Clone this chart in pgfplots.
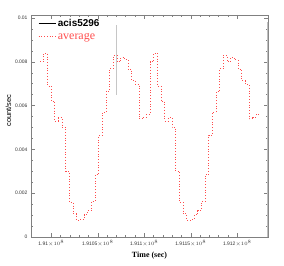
\documentclass[border=0pt]{standalone}
\usepackage{fontspec}
\setmainfont{Liberation Sans}
\newfontfamily\seriffont{Liberation Serif}
\usepackage{pgfplots}
\usepackage{pgfplotstable}
\pgfplotsset{compat=1.18}
\pgfplotstableread{
u v
-12.15 0.0080
-8.207 0.0084
-4.264 0.0069
-0.321 0.0062
3.622 0.0053
7.565 0.00545
11.508 0.0050
15.451 0.0030
19.394 0.00158
23.337 0.00106
27.28 0.00077
31.223 0.0008
35.166 0.00102
39.109 0.0012
43.052 0.00163
46.995 0.00285
50.938 0.00464
54.881 0.0057
58.824 0.00665
62.767 0.0077
66.71 0.0083
70.653 0.0080
74.596 0.0082
78.539 0.0081
82.482 0.00766
86.425 0.00714
90.368 0.00698
94.311 0.0054
98.254 0.00548
102.197 0.0056
106.14 0.0080
110.083 0.0084
114.026 0.0069
117.969 0.0062
121.912 0.0053
125.855 0.00545
129.798 0.0050
133.741 0.0030
137.684 0.00158
141.627 0.00106
145.57 0.00077
149.513 0.0008
153.456 0.00102
157.399 0.0012
161.342 0.00163
165.285 0.00285
169.228 0.00464
173.171 0.0057
177.114 0.00665
181.057 0.0077
185.0 0.0083
188.943 0.0080
192.886 0.0082
196.829 0.0081
200.772 0.00766
204.715 0.00714
208.658 0.00698
212.601 0.0054
216.544 0.00548
220.487 0.0056
224.43 0.0056
}\avg
\definecolor{avgred}{rgb}{1,0.3,0.3}
\begin{document}
\begin{tikzpicture}[x=1bp,y=1bp]
\path[use as bounding box] (0,0) rectangle (284,266);
\begin{axis}[
  at={(31bp,29bp)}, anchor=south west,
  scale only axis, width=237bp, height=222bp,
  xmin=-21.83, xmax=233.01, ymin=0, ymax=0.01014,
  xtick={0,50,100,150,200},
  xticklabels={1.91$\times10^8$,1.9105$\times10^8$,1.911$\times10^8$,1.9115$\times10^8$,1.912$\times10^8$},
  minor x tick num=4,
  ytick={0,0.002,0.004,0.006,0.008,0.01},
  yticklabels={0,0.002,0.004,0.006,0.008,0.01},
  minor y tick num=3,
  scaled y ticks=false,
  tick label style={font=\fontsize{5}{6}\selectfont, text=black!80},
  axis line style={gray, line width=0.6pt},
  tick style={gray, line width=0.5pt},
  major tick length=4bp, minor tick length=2bp,
  xlabel={\seriffont\bfseries Time (sec)},
  xlabel style={at={(axis description cs:0.5,-0.085)}, anchor=center, font=\fontsize{8}{9}\selectfont},
  ylabel={count/sec},
  ylabel style={at={(axis description cs:-0.095,0.57)}, anchor=center, font=\fontsize{7.5}{8}\selectfont},
  legend style={at={(axis description cs:0.025,0.995)}, anchor=north west, draw=none, fill=none,
    font=\fontsize{10}{11}\selectfont, row sep=1pt, inner sep=1pt},
  legend cell align=left,
]
\addlegendimage{black, line width=0.6pt}
\addlegendentry{\bfseries acis5296}
\addplot[gray!45, line width=1.3pt, forget plot] coordinates {(70.3,0.0065) (70.3,0.0097)};
\addplot[const plot, avgred, dotted, line width=0.8pt] table[x=u,y=v] {\avg};
\addlegendentry{\textcolor{avgred}{\seriffont\fontsize{12}{13}\selectfont average}}
\draw[gray!50, line width=1.5pt] (rel axis cs:1,0) -- (rel axis cs:1,0.97);
\end{axis}
\end{tikzpicture}
\end{document}
